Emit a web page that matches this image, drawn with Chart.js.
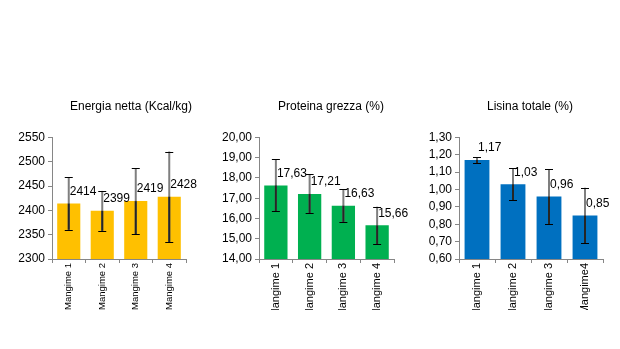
<!DOCTYPE html>
<html>
<head>
  <title>Mangimi</title>
  <script src="https://cdn.jsdelivr.net/npm/chart.js"></script>
  <style>
    html, body { margin:0; padding:0; background:#fff; overflow:hidden; width:620px; height:349px; }
    canvas { position:absolute; top:0; }
  </style>
</head>
<body>
  <canvas id="energia" width="260" height="312" style="left:0px"></canvas>
  <canvas id="proteina" width="242" height="310" style="left:210px"></canvas>
  <canvas id="lisina" width="240" height="310" style="left:410px"></canvas>

<script>
  // data
  const mangimi = ['Mangime 1', 'Mangime 2', 'Mangime 3', 'Mangime 4'];
  const mangimiLisina = ['Mangime 1', 'Mangime 2', 'Mangime 3', 'Mangime4'];

  const energia = [2414, 2399, 2419, 2428];
  const energiaErr = [54, 41, 68, 93];

  const proteina = [17.63, 17.21, 16.63, 15.66];
  const proteinaErr = [1.28, 0.96, 0.80, 0.92];

  const lisina = [1.17, 1.03, 0.96, 0.85];
  const lisinaErr = [0.017, 0.093, 0.158, 0.16];

  Chart.defaults.font.family = '"Liberation Sans", Arial, sans-serif';
  Chart.defaults.color = '#000';

  const axisGray = '#868686';

  function fmt(v, dec) {
    return v.toFixed(dec).replace('.', ',');
  }

  // error bars + value labels, drawn after the bars
  const errorBarsPlugin = {
    id: 'errorBars',
    afterDatasetsDraw(chart, args, opts) {
      const ctx = chart.ctx;
      const y = chart.scales.y;
      const meta = chart.getDatasetMeta(0);
      const values = chart.data.datasets[0].data;
      meta.data.forEach((bar, i) => {
        const v = values[i];
        const e = opts.errors[i];
        const yTop = y.getPixelForValue(v + e);
        const yBot = y.getPixelForValue(v - e);
        ctx.save();
        // grey part above the bar
        ctx.strokeStyle = '#7f7f7f';
        ctx.lineWidth = 2;
        ctx.beginPath();
        ctx.moveTo(bar.x, yTop);
        ctx.lineTo(bar.x, yBot);
        ctx.stroke();
        // darker part over the bar
        ctx.strokeStyle = '#262626';
        ctx.beginPath();
        ctx.moveTo(bar.x, Math.max(yTop, bar.y));
        ctx.lineTo(bar.x, yBot);
        ctx.stroke();
        // caps
        ctx.strokeStyle = '#000';
        ctx.lineWidth = 1;
        ctx.beginPath();
        ctx.moveTo(bar.x - 4, Math.round(yTop) + 0.5);
        ctx.lineTo(bar.x + 4, Math.round(yTop) + 0.5);
        ctx.moveTo(bar.x - 4, Math.round(yBot) + 0.5);
        ctx.lineTo(bar.x + 4, Math.round(yBot) + 0.5);
        ctx.stroke();
        // value label
        ctx.fillStyle = '#000';
        ctx.font = '12px "Liberation Sans", Arial, sans-serif';
        ctx.textAlign = 'left';
        ctx.textBaseline = 'middle';
        ctx.fillText(fmt(v, opts.decimals), bar.x + 1, bar.y - 12);
        ctx.restore();
      });
    }
  };

  function makeChart(id, title, labels, values, errors, color, min, max, step, decimals, yWidth, padLeft, spaceRight, xHeight, xFont) {
    return new Chart(document.getElementById(id), {
      type: 'bar',
      data: {
        labels: labels,
        datasets: [{
          data: values,
          backgroundColor: color,
          borderWidth: 0,
          categoryPercentage: 1,
          barPercentage: 0.69
        }]
      },
      options: {
        responsive: false,
        animation: false,
        layout: { padding: { top: 0, left: padLeft, right: 0, bottom: 0 } },
        plugins: {
          legend: { display: false },
          tooltip: { enabled: false },
          title: {
            display: true,
            text: title,
            color: '#000',
            font: { size: 12, weight: 'normal' },
            padding: { top: 99, bottom: 24 }
          },
          errorBars: { errors: errors, decimals: decimals }
        },
        scales: {
          x: {
            grid: { drawOnChartArea: false, tickLength: 4, color: axisGray },
            border: { color: axisGray },
            ticks: {
              autoSkip: false,
              minRotation: 90,
              maxRotation: 90,
              padding: 0,
              font: { size: xFont }
            },
            afterFit(scale) { scale.height = xHeight; }
          },
          y: {
            min: min,
            max: max,
            grid: { drawOnChartArea: false, tickLength: 4, color: axisGray },
            border: { color: axisGray },
            ticks: {
              autoSkip: false,
              stepSize: step,
              padding: 3,
              font: { size: 12 },
              callback: function(v) { return fmt(v, decimals); }
            },
            afterFit(scale) { scale.width = yWidth; }
          },
          // empty space on the right of the plot, the title stays centred on the whole chart
          spacer: {
            type: 'linear',
            position: 'right',
            grid: { display: false },
            border: { display: false },
            ticks: { display: false },
            afterFit(scale) { scale.width = spaceRight; }
          }
        }
      },
      plugins: [errorBarsPlugin]
    });
  }

  makeChart('energia', 'Energia netta (Kcal/kg)', mangimi, energia, energiaErr,
    '#FFC000', 2300, 2550, 50, 0, 50, 2, 74, 53, 9.5);
  makeChart('proteina', 'Proteina grezza (%)', mangimi, proteina, proteinaErr,
    '#00B050', 14, 20, 1, 2, 49, 0, 58, 51, 11);
  makeChart('lisina', 'Lisina totale (%)', mangimiLisina, lisina, lisinaErr,
    '#0070C0', 0.6, 1.3, 0.1, 2, 49, 0, 47, 51, 11);
</script>
</body>
</html>
